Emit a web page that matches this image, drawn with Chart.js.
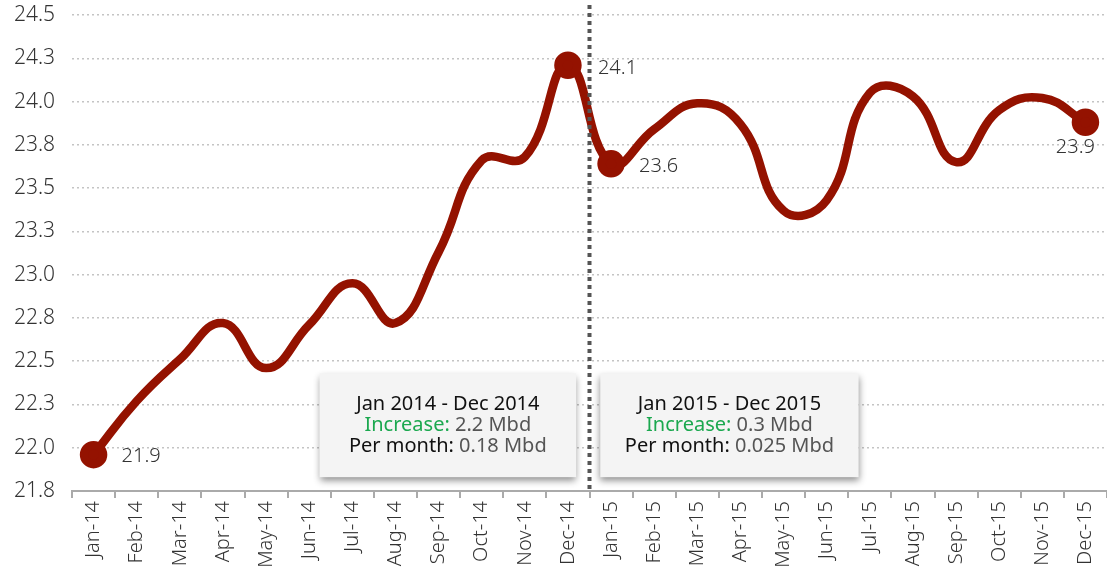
<!DOCTYPE html>
<html>
<head>
<meta charset="utf-8">
<script src="https://cdn.jsdelivr.net/npm/chart.js@4.4.1/dist/chart.umd.min.js"></script>
<style>
  html, body { margin: 0; padding: 0; background: #fff; }
  #wrap { width: 1107px; height: 574px; }
</style>
</head>
<body>
<div id="wrap"><canvas id="data-chart"></canvas></div>
<script>
const months = ['Jan-14','Feb-14','Mar-14','Apr-14','May-14','Jun-14','Jul-14','Aug-14','Sep-14','Oct-14','Nov-14','Dec-14',
                'Jan-15','Feb-15','Mar-15','Apr-15','May-15','Jun-15','Jul-15','Aug-15','Sep-15','Oct-15','Nov-15','Dec-15'];
const supply = [21.96, 22.27, 22.51, 22.72, 22.46, 22.71, 22.95, 22.72, 23.13, 23.66, 23.68, 24.21,
                23.64, 23.84, 23.99, 23.87, 23.37, 23.43, 24.05, 24.03, 23.65, 23.95, 24.02, 23.88];
// which points get a dot and a label
const labelIdx = [0, 11, 12, 23];
const labelText = ['21.9', '24.1', '23.6', '23.9'];
const yTicks = { min: 21.75, max: 24.5, step: 0.25 };

const boxes = [
  { title: 'Jan 2014 - Dec 2014', increase: '2.2 Mbd', perMonth: '0.18 Mbd' },
  { title: 'Jan 2015 - Dec 2015', increase: '0.3 Mbd', perMonth: '0.025 Mbd' }
];

const FONT = '"Noto Sans", Lato, sans-serif';
const ctx = document.getElementById('data-chart');

const extras = {
  id: 'extras',
  afterDatasetsDraw(chart) {
    const c = chart.ctx;
    const xs = chart.scales.x, ys = chart.scales.y, area = chart.chartArea;
    const meta = chart.getDatasetMeta(0);

    // data labels
    c.save();
    c.font = '300 20px ' + FONT;
    c.fillStyle = '#333';
    c.textBaseline = 'middle';
    const offs = [[28, 2, 'left'], [30, 3, 'left'], [28, 2, 'left'], [-10, 25, 'center']];
    labelIdx.forEach((idx, k) => {
      const p = meta.data[idx];
      c.textAlign = offs[k][2];
      c.fillText(labelText[k], p.x + offs[k][0], p.y + offs[k][1]);
    });
    c.restore();

    // annotation boxes
    const boxSpec = [{ from: 5.24, to: 11.19 }, { from: 11.75, to: 17.74 }];
    const top = ys.getPixelForValue(22.43), bot = ys.getPixelForValue(21.83);
    boxSpec.forEach((b, i) => {
      const x0 = xs.getPixelForValue(b.from), x1 = xs.getPixelForValue(b.to);
      c.save();
      c.shadowColor = 'rgba(0,0,0,0.45)';
      c.shadowBlur = 7;
      c.shadowOffsetX = 0;
      c.shadowOffsetY = 4;
      c.fillStyle = '#f4f4f4';
      c.fillRect(x0, top, x1 - x0, bot - top);
      c.restore();

      const cx = (x0 + x1) / 2;
      c.save();
      c.textBaseline = 'middle';
      c.textAlign = 'left';
      const lines = [
        [[boxes[i].title, '#111']],
        [['Increase: ', '#1ba84f'], [boxes[i].increase, '#555']],
        [['Per month: ', '#111'], [boxes[i].perMonth, '#555']]
      ];
      lines.forEach((parts, li) => {
        c.font = '20px ' + FONT;
        const w = parts.reduce((s, p) => s + c.measureText(p[0]).width, 0);
        let x = cx - w / 2;
        const y = top + 31 + li * 21;
        parts.forEach(p => {
          c.fillStyle = p[1];
          c.fillText(p[0], x, y);
          x += c.measureText(p[0]).width;
        });
      });
      c.restore();
    });

    // vertical separator between 2014 and 2015
    const sx = (xs.getPixelForValue(11) + xs.getPixelForValue(12)) / 2;
    c.save();
    c.strokeStyle = '#555';
    c.lineWidth = 4;
    c.setLineDash([4, 4]);
    c.beginPath();
    c.moveTo(sx, 5);
    c.lineTo(sx, area.bottom);
    c.stroke();
    c.restore();
  }
};

new Chart(ctx, {
  type: 'line',
  data: {
    labels: months,
    datasets: [{
      data: supply,
      borderColor: '#941200',
      backgroundColor: '#941200',
      borderWidth: 8.5,
      tension: 0.45,
      pointRadius: supply.map((v, i) => labelIdx.includes(i) ? 9.5 : 0),
      pointHoverRadius: 0,
      borderCapStyle: 'round',
      borderJoinStyle: 'round',
      clip: false
    }]
  },
  options: {
    responsive: true,
    maintainAspectRatio: false,
    animation: false,
    layout: { autoPadding: false, padding: { top: 15, right: 0, left: 0, bottom: 0 } },
    plugins: { legend: { display: false }, tooltip: { enabled: false } },
    scales: {
      x: {
        offset: true,
        border: { color: '#aaa', width: 2 },
        grid: { offset: true, drawOnChartArea: false, drawTicks: true, tickLength: 7, color: '#aaa', lineWidth: 2 },
        ticks: { color: '#333', font: { family: FONT, size: 20, weight: '300' }, minRotation: 90, maxRotation: 90, padding: 3, autoSkip: false },
        afterFit(s) { s.height = 83; s.paddingLeft = 0; s.paddingRight = 0; }
      },
      y: {
        min: yTicks.min,
        max: yTicks.max,
        border: { display: false, dash: [2, 3] },
        grid: { color: '#c4c4c4', lineWidth: 1.5, drawTicks: false },
        ticks: {
          stepSize: yTicks.step,
          color: '#333',
          padding: 17,
          font: { family: FONT, size: 21, weight: '300' },
          callback: v => v.toFixed(1)
        },
        afterFit(s) { s.width = 72; s.paddingTop = 0; s.paddingBottom = 0; }
      }
    }
  },
  plugins: [extras]
});
</script>
</body>
</html>
